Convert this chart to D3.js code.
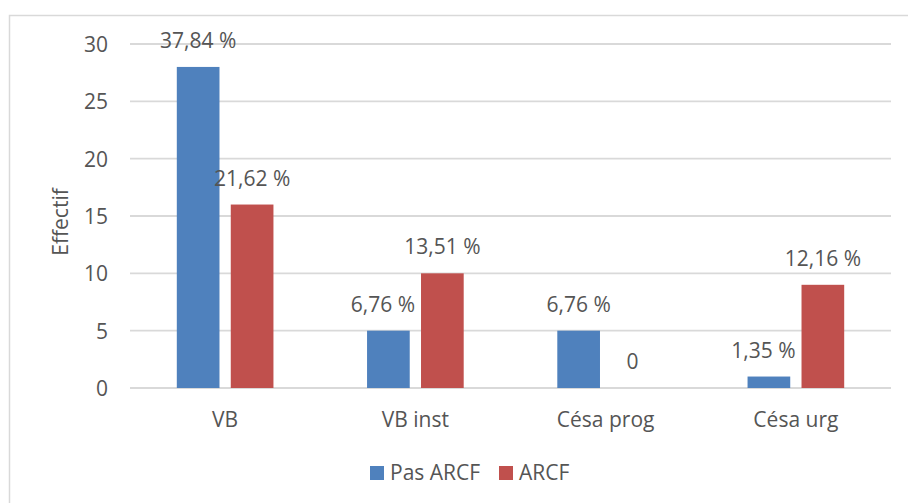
<!DOCTYPE html>
<html>
<head>
<meta charset="utf-8">
<script src="https://cdn.jsdelivr.net/npm/d3@7"></script>
<style>
  html, body { margin: 0; padding: 0; background: #fff; }
  svg text { font-family: "Open Sans", "DejaVu Sans", sans-serif; fill: #555555; }
</style>
</head>
<body>
<svg id="chart" width="908" height="503"></svg>
<script>
// Accouchements par mode et par groupe
const categories = ["VB", "VB inst", "Césa prog", "Césa urg"];
const seriesNames = ["Pas ARCF", "ARCF"];
const pasArcf = [28, 5, 5, 1];
const arcf = [16, 10, 0, 9];
const yTicks = [0, 5, 10, 15, 20, 25, 30];
const colors = ["#4f81bd", "#c0504d"];

const total = d3.sum(pasArcf) + d3.sum(arcf);
const fr = d3.formatLocale({ decimal: ",", thousands: " ", grouping: [3], currency: ["", " €"] });
const pct = v => v === 0 ? "0" : fr.format(".2f")(v / total * 100) + " %";

const svg = d3.select("#chart");
const plotLeft = 130, plotRight = 891, plotTop = 44, plotBottom = 388;
const fs = 21;

// cadre extérieur
svg.append("rect")
  .attr("x", 9.5).attr("y", 15.5)
  .attr("width", 940).attr("height", 540)
  .attr("fill", "none").attr("stroke", "#d9d9d9").attr("stroke-width", 1.5);

const y = d3.scaleLinear().domain([0, 30]).range([plotBottom, plotTop]);
const x0 = d3.scaleBand().domain(categories).range([plotLeft, plotRight])
  .paddingInner(0.492).paddingOuter(0.246);
const x1 = d3.scaleBand().domain(seriesNames).range([0, x0.bandwidth()])
  .paddingInner(0.209).paddingOuter(0);

// quadrillage horizontal
svg.append("g").selectAll("line").data(yTicks).join("line")
  .attr("x1", plotLeft).attr("x2", plotRight)
  .attr("y1", d => y(d)).attr("y2", d => y(d))
  .attr("stroke", "#d9d9d9").attr("stroke-width", 1.8);

// graduations de l'axe vertical
svg.append("g").selectAll("text").data(yTicks).join("text")
  .attr("x", 108).attr("y", d => y(d))
  .attr("text-anchor", "end").attr("dominant-baseline", "central")
  .attr("font-size", fs).text(d => d);

// titre de l'axe vertical
svg.append("text")
  .attr("transform", "translate(68,222) rotate(-90)")
  .attr("text-anchor", "middle").attr("font-size", fs)
  .text("Effectif");

// barres
const rows = categories.map((c, i) => ({ cat: c, vals: [pasArcf[i], arcf[i]] }));
const groups = svg.append("g").selectAll("g").data(rows).join("g")
  .attr("transform", d => `translate(${x0(d.cat)},0)`);

groups.selectAll("rect").data(d => d.vals.map((v, k) => ({ v, k, vals: d.vals }))).join("rect")
  .attr("x", d => x1(seriesNames[d.k]))
  .attr("y", d => y(d.v))
  .attr("width", x1.bandwidth())
  .attr("height", d => y(0) - y(d.v))
  .attr("fill", d => colors[d.k]);

// étiquettes de valeur
groups.selectAll("text").data(d => d.vals.map((v, k) => ({ v, k, vals: d.vals }))).join("text")
  .attr("x", d => x1(seriesNames[d.k]) + x1.bandwidth() / 2)
  .attr("y", d => y(d.v) - 19)
  .attr("text-anchor", "middle").attr("font-size", fs)
  .text(d => pct(d.v))
  .each(function (d) {
    // décale vers la gauche l'étiquette qui empiète sur la barre voisine plus haute
    if (d.k !== 0 || d.vals[1] <= d.v) return;
    const box = this.getBBox();
    const limit = x1(seriesNames[1]) - 6;
    if (box.y + box.height > y(d.vals[1]) && box.x + box.width > limit) {
      d3.select(this).attr("x", +d3.select(this).attr("x") - (box.x + box.width - limit));
    }
  });

// étiquettes des catégories
svg.append("g").selectAll("text").data(categories).join("text")
  .attr("x", d => x0(d) + x0.bandwidth() / 2)
  .attr("y", 427)
  .attr("text-anchor", "middle").attr("font-size", fs)
  .text(d => d);

// légende
const legendX = [370, 499];
const legend = svg.append("g").selectAll("g").data(seriesNames).join("g")
  .attr("transform", (d, i) => `translate(${legendX[i]},466)`);
legend.append("rect").attr("width", 14).attr("height", 14)
  .attr("fill", (d, i) => colors[i]);
legend.append("text").attr("x", 20).attr("y", 14)
  .attr("font-size", fs).text(d => d);
</script>
</body>
</html>
